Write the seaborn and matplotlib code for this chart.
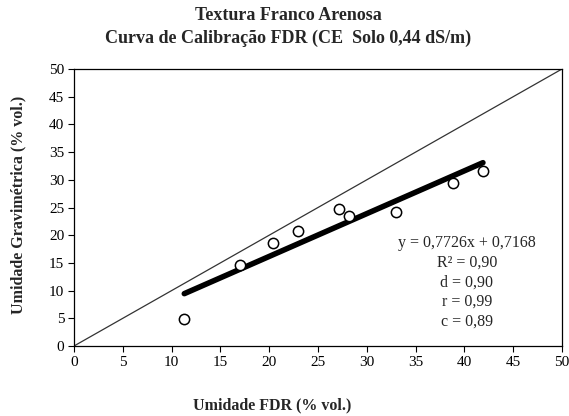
import numpy as np
import pandas as pd
import matplotlib
matplotlib.use("Agg")
import matplotlib.pyplot as plt
import seaborn as sns

# Data
fdr = [11.3, 17.0, 20.4, 22.95, 27.15, 28.2, 32.95, 38.8, 41.9]
grav = [4.9, 14.6, 18.6, 20.75, 24.8, 23.5, 24.1, 29.5, 31.6]
slope = 0.7726
intercept = 0.7168
stats_lines = ["y = 0,7726x + 0,7168", "R² = 0,90", "d = 0,90", "r = 0,99", "c = 0,89"]
ticks = [0, 5, 10, 15, 20, 25, 30, 35, 40, 45, 50]

sns.set_theme(style="ticks")
plt.rcParams['font.family'] = ['Liberation Serif', 'DejaVu Serif']

fig = plt.figure(figsize=(5.69, 4.16), dpi=100)
ax = fig.add_axes([74/569, 1-346/416, (562-74)/569, (346-69)/416])

df = pd.DataFrame({"x": fdr, "y": grav})
fit_x = [min(fdr), max(fdr)]
fit_df = pd.DataFrame({"x": fit_x, "y": [slope*v + intercept for v in fit_x]})
one_df = pd.DataFrame({"x": [0, 50], "y": [0, 50]})

sns.lineplot(data=one_df, x="x", y="y", ax=ax, color="#333333", lw=0.9)
sns.lineplot(data=fit_df, x="x", y="y", ax=ax, color="black", lw=4)
sns.scatterplot(data=df, x="x", y="y", ax=ax, s=55, facecolor="white",
                edgecolor="black", linewidth=1.1, zorder=5)

ax.set_xlim(0, 50)
ax.set_ylim(0, 50)
ax.set_xticks(ticks)
ax.set_yticks(ticks)
ax.tick_params(direction="out", length=4, width=0.8, labelsize=11, colors="black", pad=3)
for s in ax.spines.values():
    s.set_color("black")
    s.set_linewidth(0.9)
ax.set_xlabel("")
ax.set_ylabel("")

fig.text(0.506, 1-15/416, "Textura Franco Arenosa", ha="center", va="center",
         fontsize=13, fontweight="bold")
fig.text(0.506, 1-38/416, "Curva de Calibração FDR (CE  Solo 0,44 dS/m)", ha="center",
         va="center", fontsize=13, fontweight="bold")
fig.text(0.478, 1-405/416, "Umidade FDR (% vol.)", ha="center", va="center",
         fontsize=11.5, fontweight="bold")
fig.text(18/569, 1-205/416, "Umidade Gravimétrica (% vol.)", ha="center", va="center",
         rotation=90, fontsize=11.5, fontweight="bold")

ys = [243, 263, 283, 302, 322]
for t, yp in zip(stats_lines, ys):
    fig.text(467/569, 1-yp/416, t, ha="center", va="center", fontsize=11.5)

fig.savefig("out.png", dpi=100)
